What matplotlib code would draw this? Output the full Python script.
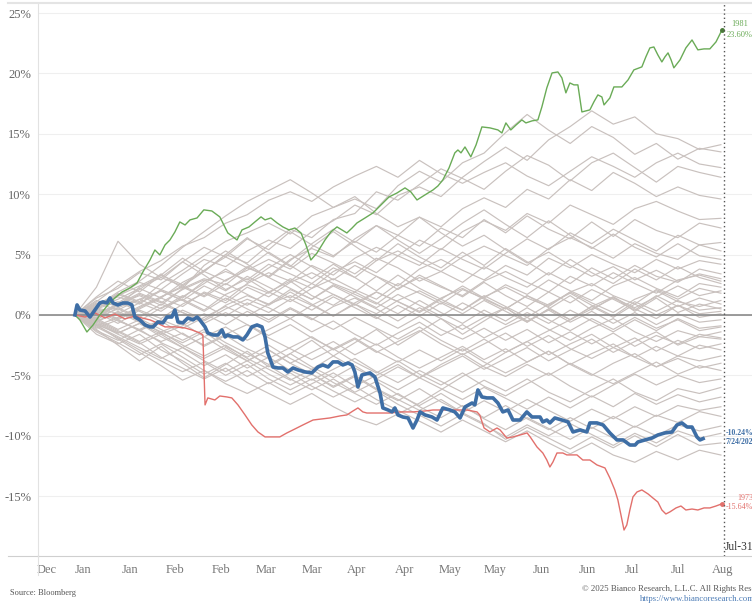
import matplotlib as mpl
import matplotlib.pyplot as plt
from matplotlib.lines import Line2D


# Dollar index, year-to-date % change, every year as grey, three highlighted years
grid_days = [1, 8, 15, 22, 29, 36, 43, 50, 57, 64, 71, 78, 85, 92, 99, 106,
             113, 120, 127, 134, 141, 148, 155, 162, 169, 176, 183, 190, 197, 204, 211]

g01 = [0, 0.9, 1.6, 2.7, 2.1, 3.4, 4.6, 4.0, 5.3, 6.2, 5.5, 6.9, 7.8, 9.1, 8.3, 9.9, 10.6, 9.8, 11.4, 12.7, 13.9, 12.8, 14.5, 15.6, 16.9, 15.8, 16.4, 15.0, 14.6, 13.7, 14.1]
g02 = [0, 0.4, 1.8, 1.1, 2.6, 3.7, 4.9, 6.1, 6.8, 7.6, 6.7, 8.2, 8.9, 9.6, 8.8, 10.7, 11.9, 11.0, 12.6, 13.4, 15.1, 16.6, 15.3, 14.2, 15.6, 14.7, 13.3, 14.2, 12.9, 13.8, 13.5]
g03 = [0, 1.2, 0.7, 2.3, 3.1, 2.4, 3.6, 5.0, 4.3, 5.8, 7.1, 6.4, 7.9, 8.4, 10.2, 9.5, 10.8, 12.1, 11.3, 10.4, 11.9, 13.2, 12.4, 11.1, 12.6, 13.4, 12.2, 11.0, 12.3, 11.8, 11.4]
g04 = [0, -0.3, 0.9, 1.6, 0.8, 2.2, 3.0, 2.5, 3.9, 3.2, 4.6, 5.5, 4.8, 6.3, 7.4, 6.6, 8.1, 7.3, 8.8, 9.7, 8.9, 10.4, 9.6, 11.2, 10.3, 11.8, 10.9, 9.8, 10.6, 9.9, 9.6]
g05 = [0, 0.6, -0.4, 0.5, 1.4, 0.7, 1.9, 1.2, 2.6, 3.5, 2.8, 4.1, 3.3, 4.7, 5.6, 4.9, 6.2, 5.4, 6.9, 7.8, 7.0, 8.4, 7.6, 9.1, 8.3, 7.5, 8.8, 9.4, 8.6, 7.9, 8.0]
g06 = [0, 1.4, 2.2, 3.5, 2.9, 4.4, 5.6, 4.8, 6.3, 5.4, 6.9, 5.8, 4.9, 6.1, 5.2, 6.6, 5.7, 7.2, 6.4, 7.9, 6.8, 8.2, 7.1, 6.3, 7.7, 6.5, 7.9, 7.0, 6.4, 7.6, 7.2]
g07 = [0, -0.6, 0.3, -0.5, 0.6, 1.3, 0.4, 1.7, 2.5, 1.8, 3.0, 2.2, 3.6, 4.4, 3.5, 4.9, 4.1, 5.5, 4.6, 3.8, 5.1, 6.3, 5.4, 6.8, 5.9, 7.1, 6.2, 5.3, 6.6, 5.8, 6.0]
g08 = [0, 0.8, 1.5, 0.9, 2.1, 1.4, 2.8, 3.6, 2.9, 4.2, 3.4, 2.6, 3.9, 3.1, 4.5, 5.3, 4.4, 3.6, 4.8, 5.7, 4.9, 4.1, 5.5, 6.4, 5.6, 4.7, 5.9, 5.1, 4.6, 5.8, 5.3]
g09 = [0, 0.2, -0.7, 0.4, -0.3, 0.9, 1.8, 1.0, 2.3, 1.5, 2.7, 3.5, 2.6, 1.9, 3.2, 2.4, 3.8, 4.6, 3.7, 2.9, 4.1, 3.3, 4.7, 3.9, 5.0, 4.2, 3.5, 4.6, 3.8, 4.5, 4.2]
g10 = [0, -0.9, -0.2, 0.7, 1.5, 2.4, 1.6, 2.9, 3.7, 4.6, 3.8, 5.1, 4.3, 3.4, 4.7, 3.9, 2.8, 3.6, 2.7, 4.0, 3.1, 2.3, 3.5, 2.6, 3.9, 3.0, 4.1, 3.2, 2.7, 3.8, 3.4]
g11 = [0, 0.5, 1.1, 0.3, -0.6, 0.4, -0.4, 0.8, 1.6, 0.9, 2.1, 1.3, 2.5, 1.7, 0.9, 2.2, 3.1, 2.3, 1.6, 2.8, 3.6, 2.7, 1.9, 3.2, 2.4, 3.5, 2.6, 1.8, 2.9, 3.3, 2.8]
g12 = [0, 1.0, 0.4, 1.3, 2.0, 1.2, 2.4, 1.6, 0.8, 1.9, 1.1, 2.2, 3.0, 2.1, 1.3, 2.6, 1.8, 0.9, 2.1, 1.4, 2.5, 1.7, 2.9, 2.0, 1.2, 2.4, 3.1, 2.2, 1.5, 2.6, 2.3]
g13 = [0, -0.4, 0.6, -0.2, 0.9, 0.2, -0.5, 0.5, 1.3, 0.6, -0.3, 0.8, 1.7, 0.9, 0.1, 1.2, 2.0, 1.1, 0.4, 1.5, 2.3, 1.4, 0.7, 1.9, 2.6, 1.6, 0.9, 2.1, 1.3, 2.2, 1.8]
g14 = [0, 0.3, -0.5, -1.2, -0.4, -1.1, -0.2, 0.7, -0.1, 0.9, 1.6, 0.8, -0.1, 1.0, 1.9, 1.1, 0.3, 1.4, 2.2, 1.3, 0.5, 1.6, 0.8, 1.9, 1.0, 0.2, 1.3, 2.0, 1.1, 0.7, 1.2]
g15 = [0, -0.2, 0.8, 1.7, 1.0, 2.1, 2.9, 2.0, 3.2, 2.3, 1.4, 2.6, 1.7, 0.8, 1.9, 1.1, 0.2, 1.3, 0.4, 1.6, 0.7, -0.2, 0.9, 1.8, 0.8, -0.1, 1.1, 0.3, 1.2, 0.4, 0.6]
g16 = [0, 0.7, 1.6, 2.4, 3.3, 2.5, 3.7, 4.8, 3.9, 5.2, 4.1, 3.0, 4.2, 3.1, 2.0, 3.3, 2.2, 1.3, 2.4, 1.4, 0.5, 1.6, 0.6, -0.4, 0.7, 1.5, 0.5, -0.3, 0.8, -0.2, 0.1]
g17 = [0, -0.8, -1.5, -0.7, -1.6, -0.9, 0.1, -0.8, 0.3, -0.6, 0.5, -0.4, 0.7, 1.4, 0.5, -0.5, 0.6, -0.3, -1.2, -0.2, 0.6, -0.5, 0.4, -0.6, 0.3, -0.7, 0.2, -0.8, 0.1, -0.6, -0.4]
g18 = [0, 0.6, 1.3, 2.2, 1.4, 2.7, 3.6, 2.8, 4.0, 3.1, 2.2, 1.3, 2.4, 1.5, 0.6, 1.7, 0.8, -0.1, 1.0, 0.1, -0.8, 0.2, -0.7, 0.4, -0.5, -1.4, -0.4, -1.3, -0.3, -1.1, -0.9]
g19 = [0, -0.5, 0.2, -0.6, -1.4, -0.7, -1.8, -1.0, -2.1, -1.2, -0.3, -1.4, -0.5, -1.6, -2.5, -1.5, -0.6, -1.7, -0.8, -1.9, -1.0, -0.2, -1.2, -2.1, -1.1, -0.3, -1.4, -2.2, -1.3, -1.8, -1.4]
g20 = [0, 0.4, -0.3, 0.6, 1.5, 2.3, 1.5, 2.6, 1.7, 0.8, 1.9, 0.9, -0.1, 0.9, -0.2, -1.1, -0.1, -1.2, -2.0, -1.1, -2.1, -1.2, -2.3, -1.4, -2.4, -1.5, -2.6, -1.7, -2.4, -1.6, -1.9]
g21 = [0, -1.1, -0.4, -1.3, -2.2, -1.5, -2.6, -1.7, -2.8, -3.6, -2.7, -1.8, -2.9, -2.0, -3.1, -2.2, -1.3, -2.4, -3.3, -2.4, -1.5, -2.6, -1.7, -2.8, -3.6, -2.7, -1.9, -3.0, -2.1, -2.8, -2.4]
g22 = [0, 0.9, 1.7, 1.0, 2.0, 1.2, 0.3, 1.4, 0.5, -0.4, 0.6, -0.3, -1.2, -0.2, -1.1, -2.0, -1.0, -2.1, -3.0, -2.0, -3.1, -2.2, -3.3, -2.4, -1.6, -2.7, -3.5, -2.6, -3.4, -2.5, -2.9]
g23 = [0, -0.7, -1.6, -2.4, -1.6, -2.7, -3.6, -2.7, -3.8, -2.9, -4.0, -3.1, -2.2, -3.3, -2.4, -3.5, -4.4, -3.5, -2.6, -3.7, -2.8, -3.9, -3.0, -4.1, -3.2, -2.4, -3.5, -4.3, -3.4, -3.8, -3.4]
g24 = [0, 0.1, 0.9, 1.8, 1.1, 0.2, -0.7, 0.2, -0.8, -1.7, -0.8, -1.9, -2.8, -1.9, -3.0, -3.9, -2.9, -3.8, -2.8, -3.9, -4.8, -3.9, -3.0, -4.1, -5.0, -4.0, -3.2, -4.3, -3.6, -4.4, -4.0]
g25 = [0, -0.3, -1.2, -0.4, -1.5, -2.3, -1.4, -2.6, -3.5, -2.5, -3.6, -4.5, -3.4, -4.4, -5.3, -4.3, -5.2, -4.1, -3.2, -4.3, -5.1, -4.1, -5.0, -4.0, -4.9, -5.7, -4.8, -3.9, -4.9, -4.2, -4.6]
g26 = [0, 0.5, -0.4, -1.3, -0.5, -1.6, -2.5, -1.6, -0.8, -1.9, -2.8, -3.7, -2.8, -3.9, -4.8, -3.8, -4.9, -5.8, -4.8, -5.9, -6.7, -5.7, -4.8, -5.9, -6.8, -5.8, -4.9, -5.8, -5.0, -5.6, -5.3]
g27 = [0, -1.3, -2.1, -1.2, -2.3, -3.1, -4.2, -3.3, -4.4, -3.5, -4.6, -5.4, -4.5, -3.6, -4.7, -5.6, -4.6, -5.5, -6.4, -5.4, -6.3, -5.3, -6.4, -7.2, -6.2, -5.3, -6.4, -7.1, -6.1, -6.5, -6.0]
g28 = [0, -0.2, 0.5, -0.3, -1.2, -2.1, -1.2, -2.3, -3.2, -4.1, -3.2, -4.3, -5.2, -4.2, -5.3, -6.2, -5.2, -6.1, -7.0, -6.0, -6.9, -7.8, -6.8, -7.7, -6.7, -7.6, -6.5, -7.4, -6.6, -7.2, -6.8]
g29 = [0, -0.9, -1.8, -2.7, -3.6, -2.7, -3.8, -4.7, -3.8, -4.9, -5.8, -4.9, -6.0, -5.1, -6.2, -7.1, -6.1, -7.2, -8.1, -7.1, -8.0, -7.0, -7.9, -8.8, -7.8, -8.6, -7.6, -8.4, -7.5, -7.9, -7.6]
g30 = [0, -1.6, -2.4, -1.6, -2.9, -3.8, -4.9, -4.0, -5.1, -4.2, -5.3, -6.2, -5.3, -6.4, -5.5, -6.6, -7.5, -6.5, -7.6, -8.5, -7.5, -8.6, -9.5, -8.5, -9.4, -8.4, -9.3, -8.3, -8.9, -8.0, -8.4]
g31 = [0, -0.4, -1.3, -2.2, -1.4, -2.5, -3.4, -2.5, -3.6, -4.5, -5.4, -4.5, -5.6, -6.5, -7.4, -6.5, -7.6, -8.5, -7.5, -8.6, -9.5, -8.5, -9.4, -10.3, -9.3, -10.2, -9.2, -10.0, -9.1, -9.6, -9.2]
g32 = [0, -1.0, -1.9, -2.9, -3.8, -4.7, -3.9, -5.0, -4.1, -5.3, -6.2, -5.3, -6.3, -7.2, -6.3, -7.4, -8.3, -9.2, -8.2, -9.1, -10.1, -9.1, -10.0, -9.0, -9.9, -10.8, -9.8, -10.6, -9.6, -10.2, -9.8]
g33 = [0, -0.6, -1.5, -0.7, -1.8, -2.7, -1.8, -2.9, -3.8, -2.9, -4.0, -4.9, -5.9, -5.0, -6.1, -7.0, -7.9, -7.0, -8.1, -9.0, -10.3, -9.3, -10.2, -11.1, -10.1, -11.0, -10.0, -10.9, -9.9, -10.8, -10.6]
g34 = [0, -1.4, -2.3, -3.3, -2.4, -3.5, -4.6, -5.5, -4.6, -5.7, -4.8, -5.9, -6.8, -5.9, -7.0, -7.9, -8.8, -9.7, -8.7, -9.6, -10.5, -9.6, -10.6, -11.5, -10.6, -11.6, -12.2, -11.3, -12.0, -11.2, -11.6]
g35 = [0, 0.7, 1.9, 2.8, 4.1, 5.6, 6.9, 8.2, 9.4, 10.3, 11.2, 10.1, 8.9, 9.8, 8.4, 7.3, 8.1, 6.8, 5.7, 6.6, 5.4, 4.3, 5.2, 4.1, 3.2, 4.0, 2.9, 3.7, 2.8, 3.4, 3.0]
g36 = [0, 1.1, 2.4, 3.6, 4.5, 5.7, 6.4, 7.6, 8.3, 9.5, 10.2, 9.4, 10.6, 11.5, 12.3, 11.4, 12.8, 11.7, 10.9, 11.8, 12.6, 11.5, 10.7, 11.9, 13.1, 12.3, 11.4, 12.6, 13.4, 12.5, 12.2]
g37 = [0, 2.3, 6.1, 4.2, 3.1, 4.4, 3.3, 2.1, 3.0, 1.9, 2.8, 1.6, 0.8, 1.9, 1.0, 0.1, 1.2, 0.2, -0.7, 0.4, -0.5, 0.6, -0.4, -1.3, -0.3, -1.2, -0.2, -1.1, -0.4, -1.3, -1.0]
g38 = [0, 0.2, 0.6, 1.3, 0.5, 1.6, 0.8, -0.1, 1.0, 0.2, 1.3, 0.4, 1.5, 0.6, -0.3, 0.8, -0.1, 1.0, 0.1, 1.2, 0.3, -0.6, 0.5, -0.4, 0.7, -0.2, 0.9, 0.0, 0.8, 0.1, 0.3]
g39 = [0, -0.8, -2.0, -3.1, -4.2, -5.4, -4.6, -5.7, -6.5, -5.6, -6.6, -5.7, -4.8, -5.9, -5.0, -4.1, -5.2, -4.3, -3.4, -4.5, -3.6, -2.7, -3.8, -2.9, -2.0, -3.1, -2.2, -1.4, -2.5, -1.8, -2.0]
g40 = [0, -0.5, -1.4, -2.3, -3.5, -4.4, -5.3, -4.4, -5.6, -6.5, -7.4, -6.5, -7.6, -8.5, -9.1, -8.2, -7.3, -6.2, -5.1, -4.2, -3.1, -2.2, -1.3, -0.4, 0.5, 1.4, 0.6, 1.5, 2.4, 1.6, 2.0]
g41 = [0, 1.5, 2.8, 1.9, 3.3, 4.7, 3.6, 5.0, 6.4, 5.1, 4.0, 5.6, 6.9, 5.7, 4.5, 5.9, 4.8, 3.9, 5.2, 4.1, 5.5, 4.4, 3.3, 4.6, 3.5, 2.6, 3.8, 2.9, 4.0, 3.1, 2.6]
g42 = [0, -0.2, 1.0, 2.1, 3.4, 2.2, 4.1, 5.3, 4.2, 3.1, 4.5, 5.9, 7.1, 6.0, 7.4, 6.2, 5.1, 6.3, 7.6, 8.7, 7.5, 6.4, 7.8, 6.6, 5.5, 6.7, 5.6, 4.8, 5.9, 4.9, 4.6]
g43 = [0, 0.6, 0.1, 1.0, 0.3, 1.5, 2.6, 3.8, 2.7, 3.9, 5.0, 4.0, 2.9, 4.1, 3.2, 2.1, 3.3, 2.4, 1.5, 2.7, 1.6, 0.7, 1.9, 1.0, 2.1, 1.3, 0.4, 1.6, 0.7, 1.4, 0.9]
g44 = [0, -1.2, -2.5, -3.8, -2.6, -4.0, -5.2, -4.1, -3.0, -4.3, -3.2, -2.1, -3.4, -2.3, -1.2, -2.5, -1.4, -0.3, -1.6, -0.5, 0.6, -0.6, 0.5, 1.6, 0.4, 1.5, 0.3, 1.4, 0.2, 0.9, 0.5]

grey_years = [g01, g02, g03, g04, g05, g06, g07, g08, g09, g10,
              g11, g12, g13, g14, g15, g16, g17, g18, g19, g20,
              g21, g22, g23, g24, g25, g26, g27, g28, g29, g30,
              g31, g32, g33, g34, g35, g36, g37, g38, g39, g40,
              g41, g42, g43, g44]

# 2025 (to 7/24)
days_2025 = [1, 1.7, 2.6, 4.3, 5.9, 7.5, 9.1, 10.1, 11.4, 12.4, 13.4, 15.0, 16.6, 18.2, 19.5, 20.5,
             22.1, 23.8, 25.4, 26.4, 28.0, 29.6, 30.9, 32.5, 33.5, 34.5, 36.1, 37.7, 39.4, 40.7,
             41.6, 43.3, 44.2, 45.9, 47.5, 48.8, 49.8, 50.7, 52.4, 54.0, 55.6, 56.9, 58.5, 60.2,
             61.8, 62.8, 63.7, 65.4, 67.0, 68.6, 70.2, 71.9, 73.5, 75.8, 78.0, 80.0, 81.6, 83.3,
             84.9, 86.5, 88.1, 89.8, 91.1, 92.0, 93.0, 94.3, 96.9, 98.5, 100.2, 101.1, 102.8,
             104.1, 105.0, 106.0, 107.6, 109.3, 110.9, 112.2, 113.2, 114.8, 117.1, 118.7, 120.6,
             122.9, 124.5, 126.2, 127.8, 130.1, 131.0, 132.0, 133.3, 134.9, 136.9, 138.5, 140.1,
             141.8, 143.4, 145.7, 147.9, 149.6, 152.2, 153.1, 154.4, 155.4, 157.0, 159.3, 161.3,
             162.9, 165.2, 167.4, 168.4, 170.7, 172.7, 174.9, 177.2, 179.2, 181.4, 183.1, 184.0,
             186.3, 188.6, 190.5, 192.8, 195.1, 196.7, 198.3, 200.0, 201.6, 203.2, 204.2, 205.2]
ytd_2025 = [0, 0.83, 0.41, 0.33, -0.17, 0.41, 0.99, 1.08, 0.99, 1.41, 0.99, 0.83, 0.99, 0.99, 0.83, -0.17,
            -0.41, -0.83, -0.99, -0.99, -0.58, -0.66, -0.17, -0.17, 0.41, -0.58, -0.66, -0.25, -0.41, -0.17,
            -0.41, -0.99, -1.49, -1.66, -1.66, -1.24, -1.82, -1.66, -1.82, -1.82, -2.07, -1.66, -0.99, -0.83,
            -0.99, -1.82, -3.15, -4.31, -4.39, -4.39, -4.72, -4.39, -4.55, -4.72, -4.80, -4.31, -4.14, -4.31,
            -3.89, -3.89, -4.14, -3.98, -4.14, -4.72, -5.96, -4.97, -4.80, -5.13, -6.46, -7.70, -7.87,
            -8.03, -7.70, -8.28, -8.45, -8.53, -9.36, -8.70, -8.03, -8.28, -8.45, -8.70, -7.70,
            -7.87, -8.03, -8.53, -7.62, -7.29, -7.45, -6.21, -6.79, -6.87, -6.87, -7.29, -8.03,
            -7.87, -8.70, -8.70, -8.03, -8.45, -8.45, -8.86, -8.70, -8.94, -8.53, -8.70, -8.86,
            -9.69, -9.52, -9.69, -8.94, -8.94, -9.11, -9.77, -10.35, -10.35, -10.77, -10.77, -10.52,
            -10.35, -10.19, -9.94, -9.77, -9.69, -9.11, -8.94, -9.28, -9.28, -10.10, -10.35, -10.24]

# 1981
days_1981 = [1, 2.6, 4.9, 6.9, 9.1, 11.7, 14.0, 16.3, 18.9, 21.2, 23.1, 25.4, 27.0, 28.6, 30.3, 31.9,
             33.5, 35.1, 36.8, 38.4, 40.7, 42.9, 45.5, 48.1, 50.7, 53.7, 55.3, 57.6, 59.5, 61.5,
             62.8, 64.7, 66.7, 68.6, 70.6, 72.5, 74.5, 76.1, 77.7, 79.7, 82.3, 84.2, 86.2, 87.8,
             89.4, 91.1, 92.7, 95.3, 97.9, 100.5, 103.1, 105.7, 108.3, 110.2, 112.2, 114.8, 117.4,
             119.0, 120.6, 122.6, 124.5, 125.5, 126.5, 127.8, 129.7, 131.4, 133.3, 135.9, 138.5,
             139.8, 141.1, 142.7, 144.4, 146.3, 147.6, 149.6, 151.5, 152.8, 154.4, 156.1, 158.0,
             159.3, 160.6, 161.9, 163.2, 164.5, 165.8, 168.4, 169.7, 171.0, 172.3, 173.0, 174.9,
             176.2, 178.8, 180.8, 182.7, 185.3, 186.6, 187.9, 189.2, 190.5, 191.8, 192.8, 193.8,
             194.8, 195.7, 197.7, 199.6, 201.6, 203.5, 205.5, 207.4, 209.4, 210.7, 211.3]
ytd_1981 = [0, -0.41, -1.41, -0.83, 0, 0.83, 1.41, 1.90, 2.24, 2.65, 3.56, 4.55, 5.38, 4.97, 5.80, 6.21,
            6.87, 7.70, 7.45, 7.87, 8.03, 8.70, 8.61, 8.12, 6.79, 6.21, 7.04, 7.29, 7.70, 8.12,
            7.87, 8.03, 7.62, 7.29, 7.04, 7.20, 6.79, 5.80, 4.55, 5.13, 6.21, 6.87, 7.29, 7.04,
            6.79, 7.20, 7.62, 8.03, 8.45, 9.11, 9.77, 10.10, 10.52, 10.19, 9.52, 9.94, 10.35,
            10.68, 11.18, 12.17, 13.42, 13.66, 13.42, 13.91, 13.09, 14.08, 15.57, 15.49, 15.32,
            15.07, 15.90, 15.32, 15.73, 16.15, 15.90, 16.07, 16.15, 17.23, 18.80, 20.04, 20.12,
            19.63, 18.39, 19.21, 19.05, 19.05, 16.81, 16.98, 17.64, 18.22, 18.05, 17.39, 17.97,
            18.88, 18.88, 19.46, 20.29, 20.54, 21.37, 22.11, 22.19, 21.53, 20.95, 21.37, 21.70,
            21.12, 20.46, 21.12, 22.11, 22.77, 21.95, 22.03, 22.03, 22.61, 23.27, 23.60]

# 1973
days_1973 = [1, 4.3, 7.5, 10.8, 14.0, 17.3, 20.5, 22.8, 25.4, 27.0, 30.3, 33.5, 36.8, 39.0, 41.6, 42.6,
             43.3, 44.2, 46.5, 48.1, 50.4, 52.0, 54.0, 56.3, 58.5, 60.5, 62.8, 65.4, 67.6, 69.9,
             71.9, 75.1, 78.4, 81.3, 83.9, 87.2, 89.4, 91.4, 93.0, 94.6, 95.9, 100.2, 103.4, 106.7,
             110.9, 114.8, 117.4, 122.9, 128.4, 131.7, 132.6, 134.0, 135.9, 138.2, 139.2, 141.4,
             143.4, 145.7, 148.0, 149.0, 151.2, 153.1, 154.4, 155.4, 156.4, 157.7, 159.6, 160.9,
             164.2, 166.1, 168.4, 170.7, 173.3, 174.9, 176.5, 177.5, 178.5, 179.5, 180.4, 181.4,
             182.4, 183.7, 185.3, 187.3, 188.9, 190.5, 191.8, 193.1, 194.4, 196.4, 198.0, 199.6,
             201.6, 203.5, 205.5, 207.4, 209.4, 211.3]
ytd_1973 = [0, -0.17, 0.17, -0.25, 0.08, -0.33, -0.08, -0.25, -0.41, -0.58, -0.99, -0.99, -1.08, -1.24, -1.49, -1.66,
            -7.45, -6.87, -7.04, -6.71, -6.79, -6.87, -7.45, -8.28, -9.11, -9.69, -10.10, -10.10, -10.10, -9.77,
            -9.52, -9.11, -8.70, -8.61, -8.53, -8.36, -8.28, -7.95, -7.70, -8.03, -8.12, -8.12, -8.12, -8.03,
            -8.03, -7.95, -7.87, -7.87, -7.87, -8.03, -8.28, -9.36, -9.69, -9.36, -9.52, -10.19,
            -10.10, -9.94, -9.77, -10.10, -10.93, -11.43, -12.01, -12.59, -12.17, -11.43, -11.43, -11.59,
            -11.59, -12.01, -12.01, -12.42, -12.67, -13.50, -14.49, -15.32, -16.56, -17.81, -17.39, -16.15,
            -15.07, -14.66, -14.49, -14.82, -15.16, -15.49, -16.15, -16.48, -16.31, -15.98, -15.82, -16.15,
            -16.07, -16.15, -15.98, -15.98, -15.82, -15.64]

x_tick_days = [-8, 3.5, 19, 33.5, 48.5, 63, 78, 92.5, 108, 123, 137.5, 152.5, 167.5, 182, 197, 211.5]
x_tick_labels = ['Dec', 'Jan', 'Jan', 'Feb', 'Feb', 'Mar', 'Mar', 'Apr', 'Apr',
                 'May', 'May', 'Jun', 'Jun', 'Jul', 'Jul', 'Aug']
y_ticks = [-15, -10, -5, 0, 5, 10, 15, 20, 25]

GREY = '#c9c1be'
GREEN = '#6aab57'
RED = '#e2706c'
BLUE = '#3e6ea5'


def main():
    mpl.rcParams['font.family'] = ['Liberation Serif', 'DejaVu Serif']

    fig = plt.figure(figsize=(7.52, 6.03), dpi=100)
    ax = fig.add_axes([38 / 752, 1 - 556 / 603, 1 - 38 / 752, 553 / 603])
    ax.set_xlim(-11, 221.1)
    ax.set_ylim(-19.96, 25.83)

    for y in y_ticks:
        ax.axhline(y, color='#efefef', lw=0.8, zorder=0)

    for series in grey_years:
        ax.plot(grid_days, series, color=GREY, lw=0.85, zorder=1)

    ax.axhline(0, color='#8a8a8a', lw=1.2, zorder=2)

    ax.plot(days_1973, ytd_1973, color=RED, lw=1.0, zorder=3)
    ax.plot(days_1981, ytd_1981, color=GREEN, lw=1.0, zorder=3)
    ax.plot(days_2025, ytd_2025, color=BLUE, lw=2.6, zorder=4, solid_joinstyle='round')
    ax.plot([days_1981[-1]], [ytd_1981[-1]], 'o', color='#4a7a3a', ms=2.5, zorder=5)
    ax.plot([days_1973[-1]], [ytd_1973[-1]], 'o', color=RED, ms=2.5, zorder=5)

    ax.axvline(212, color='#555555', lw=1.0, ls=(0, (1, 2)), zorder=5)

    # end labels (the right edge cuts some of them, as on the original)
    ax.text(217.0, 24.1, '1981', color=GREEN, fontsize=6, ha='center', va='center')
    ax.text(217.0, 23.2, '23.60%', color=GREEN, fontsize=6, ha='center', va='center')
    ax.text(212.4, -9.77, '-10.24%', color=BLUE, fontsize=5.6, fontweight='bold', ha='left', va='center')
    ax.text(212.4, -10.52, '7/24/2025', color=BLUE, fontsize=5.6, fontweight='bold', ha='left', va='center')
    ax.text(216.3, -15.16, '1973', color=RED, fontsize=5.8, ha='left', va='center')
    ax.text(212.6, -15.9, '-15.64%', color=RED, fontsize=5.8, ha='left', va='center')
    ax.text(212.3, -19.2, 'Jul-31', color='#333333', fontsize=8.3, ha='left', va='center')

    ax.set_yticks(y_ticks)
    ax.set_yticklabels(['{}%'.format(y) for y in y_ticks])
    ax.set_xticks(x_tick_days)
    ax.set_xticklabels(x_tick_labels)
    ax.tick_params(axis='y', length=0, pad=5, labelsize=9, labelcolor='#666666')
    ax.tick_params(axis='x', length=0, pad=6, labelsize=9, labelcolor='#777777')

    for side in ['top', 'right']:
        ax.spines[side].set_visible(False)
    ax.spines['left'].set_color('#e2e2e2')
    ax.spines['bottom'].set_color('#cfcfcf')

    # frame lines outside the axes
    fig.add_artist(Line2D([8 / 752, 1], [1 - 3 / 603] * 2, color='#e4e4e4', lw=1.5))
    fig.add_artist(Line2D([8 / 752, 38 / 752], [1 - 556 / 603] * 2, color='#cfcfcf', lw=0.8))
    fig.add_artist(Line2D([38 / 752] * 2, [1 - 575 / 603, 1 - 556 / 603], color='#e2e2e2', lw=0.8))

    fig.text(10 / 752, 1 - 593 / 603, 'Source: Bloomberg', fontsize=6, color='#555555', va='center')
    fig.text(582 / 752, 1 - 589 / 603, '\u00a9 2025 Bianco Research, L.L.C. All Rights Reserved',
             fontsize=6.3, color='#555555', va='center')
    fig.text(640 / 752, 1 - 599 / 603, 'https://www.biancoresearch.com',
             fontsize=6.3, color='#4a7ab5', va='center')

    fig.savefig('out.png', dpi=100)


if __name__ == '__main__':
    main()
